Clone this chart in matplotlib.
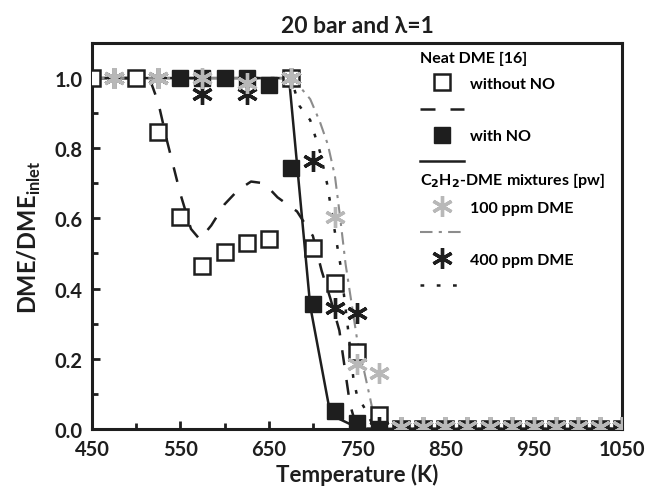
import numpy as np
import matplotlib
matplotlib.use('Agg')
import matplotlib.pyplot as plt
from matplotlib.lines import Line2D

plt.rcParams['font.family'] = ['Lato', 'DejaVu Sans']
plt.rcParams['font.weight'] = 'bold'
plt.rcParams['mathtext.default'] = 'bf'

# Neat DME [16], without NO
T_noNO = [450, 500, 525, 550, 575, 600, 625, 650, 675, 700, 725, 750, 775,
          800, 825, 850, 875, 900, 925, 950, 975, 1000, 1025, 1050]
y_noNO = [1.0, 1.0, 0.845, 0.605, 0.465, 0.505, 0.53, 0.54, 1.0, 0.515, 0.415, 0.22, 0.04,
          0, 0, 0, 0, 0, 0, 0, 0, 0, 0, 0]
T_noNO_fit = [450, 500, 515, 525, 535, 550, 562, 572, 585, 600, 615, 630, 645, 660,
              682, 700, 710, 720, 730, 742, 750, 1050]
y_noNO_fit = [1.0, 1.0, 1.0, 0.93, 0.82, 0.67, 0.57, 0.54, 0.58, 0.64, 0.68, 0.705, 0.70, 0.66,
              0.62, 0.55, 0.45, 0.37, 0.28, 0.07, 0.0, 0.0]

# Neat DME [16], with NO
T_NO = [550, 575, 600, 625, 650, 675, 700, 725, 750, 775,
        800, 825, 850, 875, 900, 925, 950, 975, 1000, 1025, 1050]
y_NO = [1.0, 1.0, 1.0, 1.0, 0.98, 0.745, 0.355, 0.05, 0.018, 0.0,
        0, 0, 0, 0, 0, 0, 0, 0, 0, 0, 0]
T_NO_fit = [450, 673, 697, 720, 745, 760, 1050]
y_NO_fit = [1.0, 1.0, 0.35, 0.04, 0.01, 0.0, 0.0]

# C2H2-DME mixtures, 100 ppm DME
T_100 = [475, 525, 575, 625, 675, 725, 750, 775,
         800, 825, 850, 875, 900, 925, 950, 975, 1000, 1025, 1050]
y_100 = [1.0, 1.0, 1.0, 0.985, 1.0, 0.605, 0.185, 0.16,
         0.005, 0.005, 0.005, 0.005, 0.005, 0.005, 0.005, 0.005, 0.005, 0.005, 0.005]
T_100_fit = [450, 677, 697, 708, 717, 725, 731, 737, 750, 765, 772, 1050]
y_100_fit = [1.0, 1.0, 0.94, 0.875, 0.81, 0.72, 0.6, 0.47, 0.256, 0.085, 0.0, 0.0]

# C2H2-DME mixtures, 400 ppm DME
T_400 = [475, 525, 575, 625, 675, 700, 725, 750, 775,
         800, 825, 850, 875, 900, 925, 950, 975, 1000, 1025, 1050]
y_400 = [1.0, 1.0, 0.955, 0.955, 1.0, 0.765, 0.345, 0.33, 0.005,
         0.005, 0.005, 0.005, 0.005, 0.005, 0.005, 0.005, 0.005, 0.005, 0.005, 0.005]
T_400_fit = [450, 675, 685, 697, 708, 716, 725, 731, 740, 746, 750, 759, 770, 1050]
y_400_fit = [1.0, 1.0, 0.92, 0.88, 0.79, 0.70, 0.56, 0.47, 0.28, 0.14, 0.095, 0.057, 0.0, 0.0]

ink = '#1e1e1e'
grey = '#b8b8b8'
dgrey = '#8c8c8c'

fig = plt.figure(figsize=(6.48, 4.89), dpi=100)
ax = fig.add_axes([0.142, 0.121, 0.818, 0.789])

ax.plot(T_noNO_fit, y_noNO_fit, color=ink, ls=(0, (6, 6)), lw=1.8, zorder=2)
ax.plot(T_NO_fit, y_NO_fit, color=ink, ls='-', lw=1.8, zorder=2)
ax.plot(T_100_fit, y_100_fit, color=dgrey, ls=(0, (6, 3, 1.5, 3)), lw=1.5, zorder=2)
ax.plot(T_400_fit, y_400_fit, color=ink, ls=(0, (1.5, 5)), lw=1.8, zorder=2)

ax.plot(T_noNO, y_noNO, 's', ms=11, mfc='white', mec=ink, mew=1.8, ls='none', zorder=3)
ax.plot(T_NO, y_NO, 's', ms=11, mfc=ink, mec=ink, ls='none', zorder=3)
ax.plot(T_400, y_400, marker=(6, 2, 0), ms=15, mec=ink, mew=2.4, ls='none', zorder=4)
ax.plot(T_100, y_100, marker=(6, 2, 0), ms=15, mec=grey, mew=2.4, ls='none', zorder=5)

ax.set_xlim(450, 1050)
ax.set_ylim(0, 1.1)
ax.set_xticks(np.arange(450, 1051, 100))
ax.set_xticks(np.arange(500, 1051, 100), minor=True)
ax.set_yticks(np.arange(0, 1.01, 0.2))
ax.set_yticks(np.arange(0.1, 1.01, 0.2), minor=True)
ax.yaxis.set_major_formatter(matplotlib.ticker.FormatStrFormatter('%.1f'))
ax.tick_params(which='both', direction='in', top=False, right=False, labelsize=14.5, width=2, pad=7,
               colors=ink)
ax.tick_params(which='major', length=6)
ax.tick_params(which='minor', length=4)
for s in ax.spines.values():
    s.set_linewidth(2.2)
    s.set_color(ink)

ax.set_xlabel('Temperature (K)', fontsize=16, fontweight='bold', color=ink, labelpad=3)
ax.set_ylabel('DME/DME$_{\\mathregular{inlet}}$', fontsize=17, fontweight='bold', color=ink, labelpad=8)
ax.set_title('20 bar and λ=1', fontsize=16.5, fontweight='bold', color=ink, pad=8)

h1 = [Line2D([], [], marker='s', ms=11, mfc='white', mec=ink, mew=1.8, ls='none'),
      Line2D([], [], color=ink, ls=(0, (6, 6)), lw=1.8),
      Line2D([], [], marker='s', ms=11, mfc=ink, mec=ink, ls='none'),
      Line2D([], [], color=ink, lw=1.8)]
l1 = ['without NO', ' ', 'with NO', ' ']
leg1 = ax.legend(h1, l1, title='Neat DME [16]', loc='upper left', bbox_to_anchor=(0.619, 0.98),
                 frameon=False, fontsize=11.5, title_fontsize=11.5, alignment='left',
                 handlelength=2.75, handletextpad=0.35, labelspacing=0.75, borderaxespad=0,
                 borderpad=0)
leg1.get_title().set_fontweight('bold')
ax.add_artist(leg1)

h2 = [Line2D([], [], marker=(6, 2, 0), ms=15, mec=grey, mew=2.4, ls='none'),
      Line2D([], [], color=dgrey, ls=(0, (6, 3, 1.5, 3)), lw=1.5),
      Line2D([], [], marker=(6, 2, 0), ms=15, mec=ink, mew=2.4, ls='none'),
      Line2D([], [], color=ink, ls=(0, (1.5, 5)), lw=1.8)]
l2 = ['100 ppm DME', ' ', '400 ppm DME', ' ']
leg2 = ax.legend(h2, l2, title='C$_2$H$_2$-DME mixtures [pw]', loc='upper left',
                 bbox_to_anchor=(0.619, 0.672), frameon=False, fontsize=11.5, title_fontsize=11.5,
                 alignment='left', handlelength=2.75, handletextpad=0.35, labelspacing=0.75,
                 borderaxespad=0, borderpad=0)
leg2.get_title().set_fontweight('bold')

fig.savefig('out.png', dpi=100)
